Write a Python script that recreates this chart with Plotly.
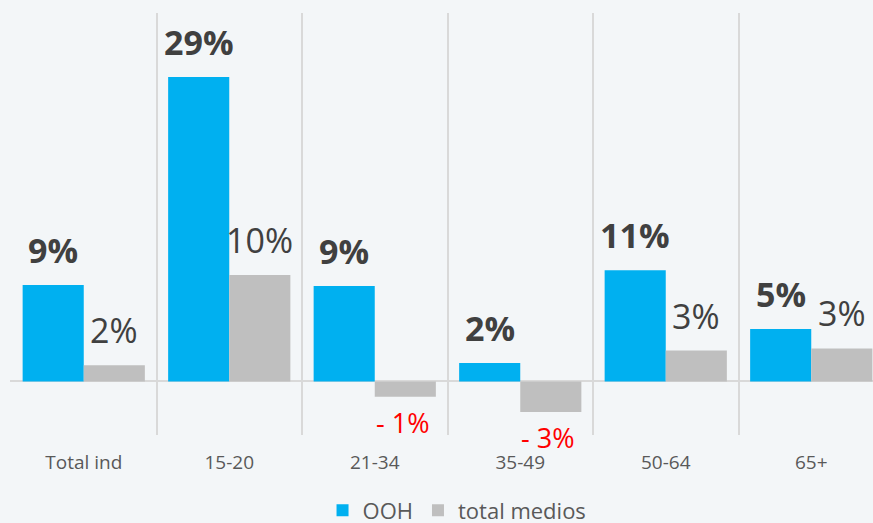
import plotly.graph_objects as go

categories = ["Total ind", "15-20", "21-34", "35-49", "50-64", "65+"]
ooh_values = [9.2, 29.0, 9.1, 1.75, 10.6, 5.0]
medios_values = [1.55, 10.15, -1.45, -2.9, 2.95, 3.15]
ooh_labels = ["9%", "29%", "9%", "2%", "11%", "5%"]
medios_labels = ["2%", "10%", "- 1%", "- 3%", "3%", "3%"]

BLUE = "#00B0F0"
GREY = "#BFBFBF"
BG = "#F3F6F8"
FONT = "Open Sans"

xpos = list(range(len(categories)))

fig = go.Figure()
fig.add_trace(go.Bar(x=xpos, y=ooh_values, name="OOH", marker=dict(color=BLUE, line=dict(width=0))))
fig.add_trace(go.Bar(x=xpos, y=medios_values, name="total medios", marker=dict(color=GREY, line=dict(width=0))))

# gridline helper trace on secondary x axis
fig.add_trace(go.Scatter(x=[-0.5], y=[0], xaxis="x2", mode="markers", marker=dict(opacity=0), showlegend=False, hoverinfo="skip"))

off = 0.21
annotations = []
for i, (v, t) in enumerate(zip(ooh_values, ooh_labels)):
    annotations.append(dict(x=i - off, y=v, xref="x", yref="y", text=f"<b>{t}</b>", showarrow=False,
                            yanchor="bottom", yshift=10, font=dict(family=FONT, size=34, color="#404040")))
for i, (v, t) in enumerate(zip(medios_values, medios_labels)):
    if v >= 0:
        annotations.append(dict(x=i + off, y=v, xref="x", yref="y", text=t, showarrow=False,
                                yanchor="bottom", yshift=10, font=dict(family=FONT, size=34, color="#404040")))
    else:
        annotations.append(dict(x=i + off - 0.02, y=v, xref="x", yref="y", text=t, showarrow=False,
                                yanchor="top", yshift=-5, font=dict(family=FONT, size=27, color="#FF0000")))

xr = [-0.5 - 1 / 145.5, 5.5 - 11 / 145.5]
fig.update_layout(
    width=873, height=523,
    margin=dict(l=10, r=0, t=13, b=88, autoexpand=False),
    paper_bgcolor=BG, plot_bgcolor=BG,
    barmode="group", bargap=0.16, bargroupgap=0,
    font=dict(family=FONT, color="#595959"),
    xaxis=dict(range=xr, tickvals=xpos, ticktext=categories, showgrid=False, zeroline=False,
               ticks="outside", ticklen=10, tickcolor="rgba(0,0,0,0)",
               tickfont=dict(family=FONT, size=19, color="#595959"), fixedrange=True),
    xaxis2=dict(range=xr, overlaying="x", tickvals=[-0.5, 0.5, 1.5, 2.5, 3.5, 4.5],
                showticklabels=False, showgrid=True, gridcolor="#D9D9D9", gridwidth=2, zeroline=False),
    yaxis=dict(range=[-5.1, 35.1], showgrid=False, showticklabels=False, zeroline=True,
               zerolinecolor="#D9D9D9", zerolinewidth=2),
    legend=dict(orientation="h", x=0.518, xanchor="center", y=0.024, yanchor="middle", yref="container",
                font=dict(family=FONT, size=22, color="#595959"), itemwidth=30,
                bgcolor="rgba(0,0,0,0)"),
    annotations=annotations,
    showlegend=True,
)

fig.write_html("out.html", config={"displayModeBar": False},
               post_script="document.body.style.margin='0';document.body.style.overflow='hidden';")
